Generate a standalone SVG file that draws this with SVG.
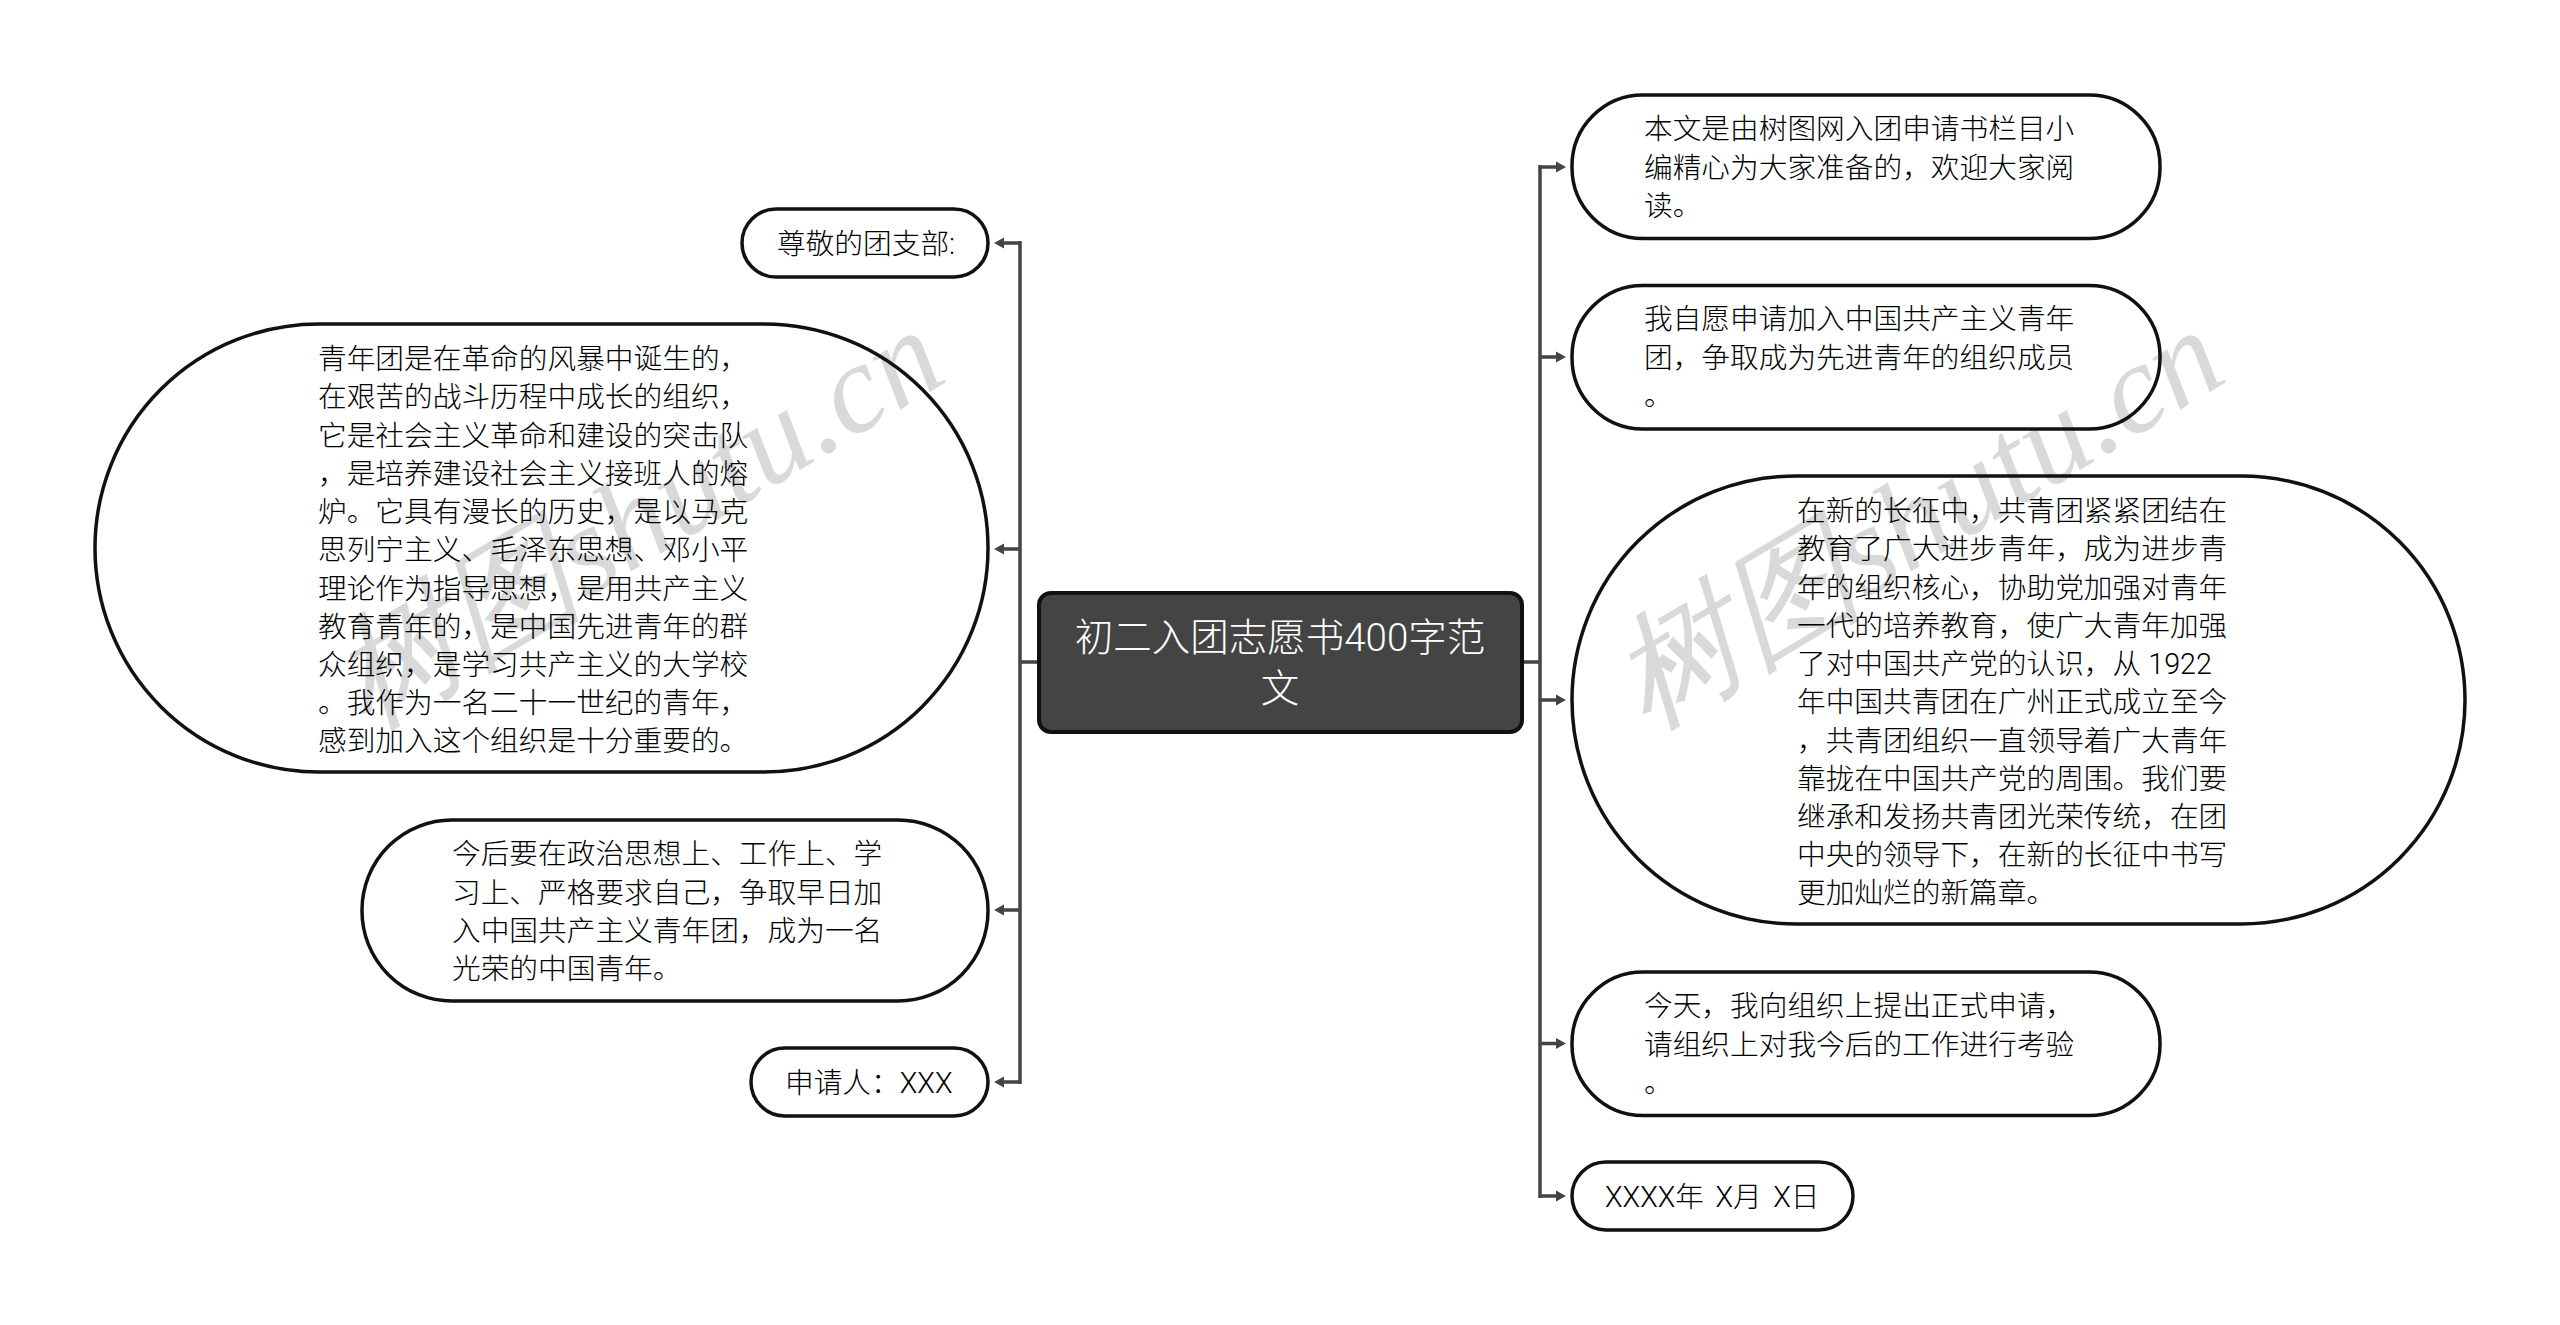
<svg xmlns="http://www.w3.org/2000/svg" width="2560" height="1325" viewBox="0 0 2560 1325">
<defs>
<marker id="arrow" markerUnits="userSpaceOnUse" markerWidth="13" markerHeight="13" refX="1" refY="6.500" orient="auto"><path d="M0,1 L10,6.500 L0,12 z" fill="#444"/></marker>
</defs>
<style>
.n{fill:none;stroke:#111;stroke-width:3.5}
.c{fill:#444;stroke:#111;stroke-width:4}
.t{font-family:Roboto,"Noto Sans CJK SC","Noto Sans",sans-serif;font-size:28.7px;font-weight:300;fill:#000}
.h{font-family:Roboto,"Noto Sans CJK SC","Noto Sans",sans-serif;font-size:38.5px;font-weight:300;fill:#fff;text-anchor:middle}
.w{font-family:"Liberation Serif",serif;font-style:italic;font-size:127px;fill:#d9d9d9}
.l{fill:none;stroke:#444;stroke-width:3.5}
.a{marker-end:url(#arrow)}
</style>
<rect width="2560" height="1325" fill="#fff"/>
<g id="watermarks">
<text class="w" transform="translate(367,730) rotate(-31)">树图shutu.cn</text>
<text class="w" transform="translate(1647,730) rotate(-31)">树图shutu.cn</text>
</g>
<g id="connectors">
<path class="l" d="M1038,662 H1020 M1020,241 V1084 M1522,662 H1540 M1540,165 V1198"/>
<path class="l a" d="M1021,243 H1003"/>
<path class="l a" d="M1021,549 H1003"/>
<path class="l a" d="M1021,910 H1003"/>
<path class="l a" d="M1021,1082 H1003"/>
<path class="l a" d="M1539,167 H1557"/>
<path class="l a" d="M1539,357 H1557"/>
<path class="l a" d="M1539,700 H1557"/>
<path class="l a" d="M1539,1043.500 H1557"/>
<path class="l a" d="M1539,1196 H1557"/>
</g>
<g id="root"><rect class="c" x="1039" y="593" width="483" height="139" rx="12"/>
<text class="h" x="1280" y="651">初二入团志愿书400字范</text><text class="h" x="1280" y="702">文</text></g>
<g id="left1"><rect class="n" x="742" y="209" width="246" height="68" rx="34"/>
<text class="t" x="777" y="254">尊敬的团支部:</text></g>
<g id="left2"><rect class="n" x="95" y="324" width="893" height="448" rx="224"/>
<text class="t"><tspan x="318" y="369">青年团是在革命的风暴中诞生的，</tspan><tspan x="318" y="407">在艰苦的战斗历程中成长的组织，</tspan><tspan x="318" y="445.500">它是社会主义革命和建设的突击队</tspan><tspan x="318" y="483.700">，是培养建设社会主义接班人的熔</tspan><tspan x="318" y="522">炉。它具有漫长的历史，是以马克</tspan><tspan x="318" y="560">思列宁主义、毛泽东思想、邓小平</tspan><tspan x="318" y="598.500">理论作为指导思想，是用共产主义</tspan><tspan x="318" y="636.700">教育青年的，是中国先进青年的群</tspan><tspan x="318" y="675">众组织，是学习共产主义的大学校</tspan><tspan x="318" y="713">。我作为一名二十一世纪的青年，</tspan><tspan x="318" y="751">感到加入这个组织是十分重要的。</tspan></text></g>
<g id="left3"><rect class="n" x="362" y="820" width="626" height="181" rx="90"/>
<text class="t"><tspan x="452" y="864">今后要在政治思想上、工作上、学</tspan><tspan x="452" y="902.500">习上、严格要求自己，争取早日加</tspan><tspan x="452" y="941">入中国共产主义青年团，成为一名</tspan><tspan x="452" y="979">光荣的中国青年。</tspan></text></g>
<g id="left4"><rect class="n" x="751" y="1048" width="237" height="68" rx="34"/>
<text class="t" x="785" y="1093">申请人：XXX</text></g>
<g id="right1"><rect class="n" x="1572" y="95" width="588" height="143.500" rx="71"/>
<text class="t"><tspan x="1644" y="139">本文是由树图网入团申请书栏目小</tspan><tspan x="1644" y="177.500">编精心为大家准备的，欢迎大家阅</tspan><tspan x="1644" y="216">读。</tspan></text></g>
<g id="right2"><rect class="n" x="1572" y="285.500" width="588" height="143.500" rx="71"/>
<text class="t"><tspan x="1644" y="329">我自愿申请加入中国共产主义青年</tspan><tspan x="1644" y="367.500">团，争取成为先进青年的组织成员</tspan><tspan x="1644" y="406">。</tspan></text></g>
<g id="right3"><rect class="n" x="1572" y="476" width="893" height="448" rx="224"/>
<text class="t"><tspan x="1797" y="521">在新的长征中，共青团紧紧团结在</tspan><tspan x="1797" y="559">教育了广大进步青年，成为进步青</tspan><tspan x="1797" y="597.500">年的组织核心，协助党加强对青年</tspan><tspan x="1797" y="635.700">一代的培养教育，使广大青年加强</tspan><tspan x="1797" y="674">了对中国共产党的认识，从 1922</tspan><tspan x="1797" y="712">年中国共青团在广州正式成立至今</tspan><tspan x="1797" y="750.500">，共青团组织一直领导着广大青年</tspan><tspan x="1797" y="788.700">靠拢在中国共产党的周围。我们要</tspan><tspan x="1797" y="827">继承和发扬共青团光荣传统，在团</tspan><tspan x="1797" y="865">中央的领导下，在新的长征中书写</tspan><tspan x="1797" y="903">更加灿烂的新篇章。</tspan></text></g>
<g id="right4"><rect class="n" x="1572" y="972" width="588" height="143.500" rx="71"/>
<text class="t"><tspan x="1644" y="1016">今天，我向组织上提出正式申请，</tspan><tspan x="1644" y="1054.500">请组织上对我今后的工作进行考验</tspan><tspan x="1644" y="1093">。</tspan></text></g>
<g id="right5"><rect class="n" x="1572" y="1162" width="281" height="68" rx="34"/>
<text class="t" x="1605" y="1207" word-spacing="4.500">XXXX年 X月 X日</text></g>
</svg>
